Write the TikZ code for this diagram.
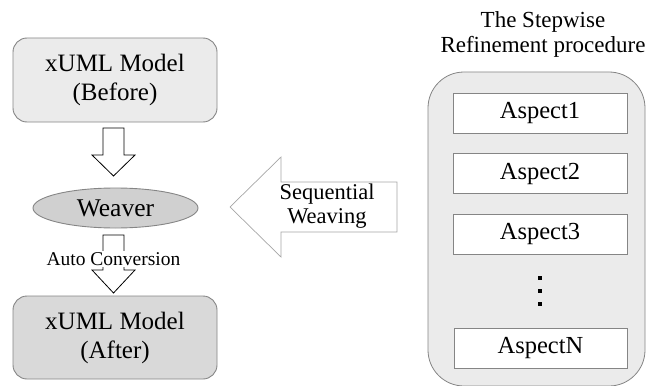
\documentclass[tikz,border=0pt]{standalone}
\usepackage{fontspec}
\setmainfont{Liberation Serif}
\usetikzlibrary{shapes.geometric}
\definecolor{lightfill}{HTML}{EBEBEB}
\definecolor{darkfill}{HTML}{D9D9D9}
\definecolor{ellfill}{HTML}{D0D0D0}
\definecolor{edge}{HTML}{858585}
\definecolor{arrowedge}{HTML}{A6A6A6}
\tikzset{
  model/.style={draw=edge, line width=0.9pt, rounded corners=14pt,
    minimum width=204pt, minimum height=84pt, align=center,
    font=\fontsize{25}{29}\selectfont},
  aspectbox/.style={draw=edge, line width=0.8pt, fill=white,
    minimum width=174pt, minimum height=40pt, inner sep=0pt,
    font=\fontsize{24.5}{28}\selectfont},
  blockarrow/.style={draw=black, line width=0.8pt, fill=white, line join=miter},
  bigarrow/.style={draw=arrowedge, line width=0.7pt, fill=white},
  label/.style={align=center, font=\fontsize{22.5}{24}\selectfont}
}
\begin{document}
\begin{tikzpicture}[x=1pt, y=-1pt]
\useasboundingbox (0,0) rectangle (647,385);

% left column: model before, weaver, model after
\node[model, fill=lightfill] (before) at (115,80) {xUML Model\\(Before)};
\node[draw=edge, line width=0.9pt, fill=ellfill, ellipse,
  minimum width=165pt, minimum height=40pt, inner sep=0pt,
  font=\fontsize{25.5}{29}\selectfont] (weaver) at (115.5,208) {Weaver};
\node[model, fill=darkfill, minimum height=83pt] (after) at (115,337.5) {xUML Model\\(After)};

% block arrow: model before -> weaver
\draw[blockarrow] (103,128) -- (124,128) -- (124,155) -- (135,155)
  -- (113.5,176) -- (92,155) -- (103,155) -- cycle;
% block arrow: weaver -> model after
\draw[blockarrow] (103,235) -- (124,235) -- (124,270) -- (135,270)
  -- (113.5,293) -- (92,270) -- (103,270) -- cycle;
\node[fill=white, inner sep=1pt, font=\fontsize{19.5}{22}\selectfont]
  (conv) at (113.5,259) {Auto Conversion};

% right column: the refinement procedure
\node[label, font=\fontsize{23}{25}\selectfont] (title) at (543,34)
  {The Stepwise\\Refinement procedure};
\draw[draw=edge, line width=0.8pt, fill=lightfill, rounded corners=36pt]
  (428,72) rectangle (645,386);
\coordinate (container) at (536.5,228);
\node[aspectbox] (a1) at (540,113) {Aspect1};
\node[aspectbox] (a2) at (540,173.5) {Aspect2};
\node[aspectbox] (a3) at (540,234) {Aspect3};
\node[aspectbox, minimum width=173pt] (aN) at (540.5,348.5) {AspectN};
\foreach \yy in {278,291,304}
  \fill[black] (537.5,\yy-2) rectangle (541.5,\yy+2);

% sequential weaving arrow
\draw[bigarrow] (397,182) -- (397,232) -- (281,232) -- (281,257)
  -- (230,207) -- (281,157) -- (281,182) -- cycle;
\node[label] (weaving) at (327,206.5) {Sequential\\Weaving};
\end{tikzpicture}
\end{document}
